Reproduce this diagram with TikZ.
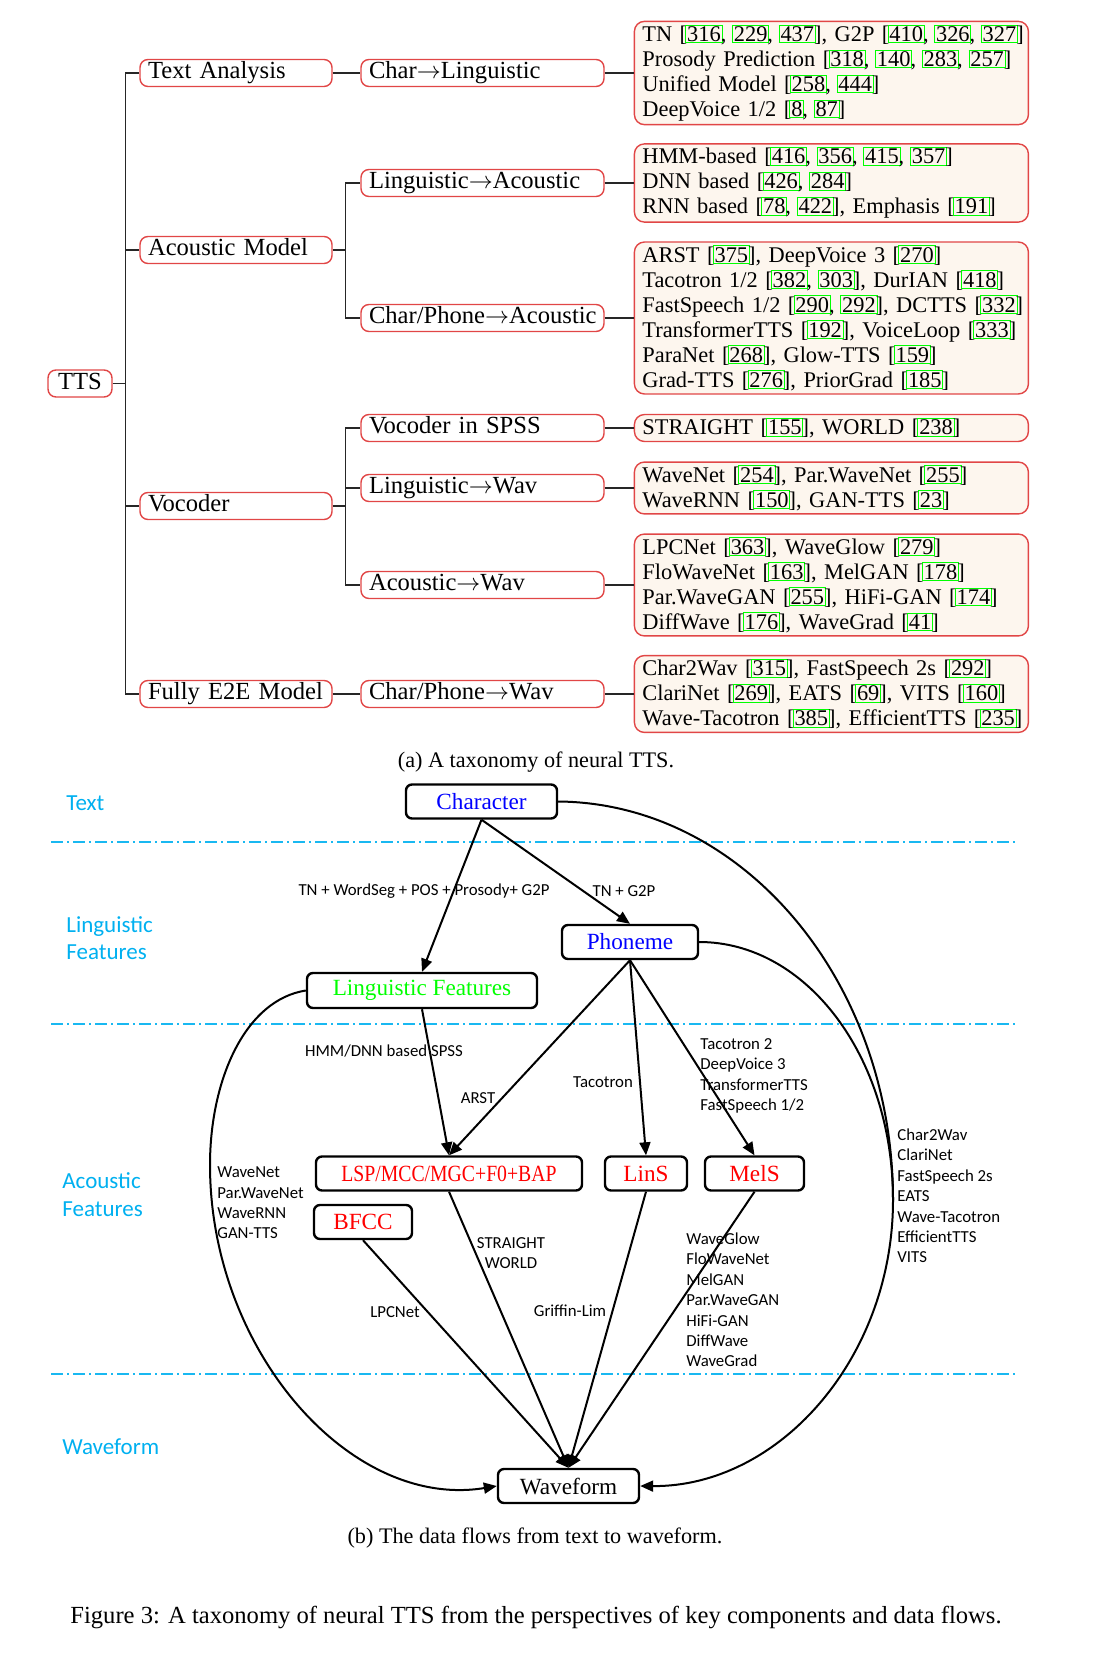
\documentclass[tikz,border=0pt]{standalone}
\usepackage{fontspec}
\setmainfont{Liberation Serif}
\newfontfamily\calibri{Carlito}
\usepackage{graphicx}
\usetikzlibrary{positioning, arrows.meta}
\definecolor{treered}{RGB}{225, 70, 70}
\definecolor{leafbg}{RGB}{253, 246, 238}
\definecolor{citegreen}{RGB}{0, 255, 0}
\definecolor{layerblue}{RGB}{0, 176, 240}
% green link frame round a citation number
\newcommand{\rf}[1]{{\setlength{\fboxsep}{0.4pt}\setlength{\fboxrule}{0.5pt}%
  \kern-0.9pt\textcolor{citegreen}{\fbox{\textcolor{black}{#1}}}\kern-0.9pt}}
% one unbroken line of a leaf box
\newcommand{\lrow}[1]{\mbox{#1}}

\begin{document}
\begin{tikzpicture}[x=0.5pt, y=-0.5pt,
  tnode/.style={draw=treered, line width=0.7pt, rounded corners=4pt, fill=white,
    font=\fontsize{12.3}{13}\selectfont, text height=8.5pt, text depth=2.6pt,
    inner ysep=1.2pt, inner xsep=4pt},
  lvlone/.style={tnode, text width=88pt, align=left},
  lvltwo/.style={tnode, text width=113.5pt, align=left},
  leaf/.style={draw=treered, line width=0.7pt, rounded corners=5pt, fill=leafbg,
    font=\fontsize{11.2}{12.5}\selectfont, text width=189pt, align=left,
    inner xsep=4pt, inner ysep=1.7pt},
  tline/.style={black!85, line width=0.6pt},
  flowbox/.style={draw, line width=1.2pt, rounded corners=3pt,
    font=\fontsize{11.6}{13}\selectfont, inner sep=0pt, minimum height=17pt},
  flow/.style={line width=1pt, -{Triangle[length=6.5pt, width=5.5pt]}},
  elab/.style={font=\calibri\fontsize{8.4}{10.2}\selectfont, inner sep=0pt},
  layer/.style={font=\calibri\fontsize{11.5}{13.8}\selectfont, text=layerblue, inner sep=0pt},
  sepline/.style={layerblue!90, line width=0.7pt, dash pattern=on 6pt off 2pt on 1pt off 2pt}]
  \useasboundingbox (0,0) rectangle (1097,1653);

  % (a) taxonomy
  \node[tnode, minimum width=32pt, inner xsep=0pt] (tts) at (80,383.5) {TTS};
  \node[lvlone] (ta)  at (236,73)  {Text Analysis};
  \node[lvlone] (am)  at (236,250) {Acoustic Model};
  \node[lvlone] (voc) at (236,506) {Vocoder};
  \node[lvlone] (e2e) at (236,694) {Fully E2E Model};

  \node[lvltwo] (cl) at (482.5,73)  {Char$\rightarrow$Linguistic};
  \node[lvltwo] (la) at (482.5,183) {Linguistic$\rightarrow$Acoustic};
  \node[lvltwo] (ca) at (482.5,318) {Char/Phone$\rightarrow$Acoustic};
  \node[lvltwo] (vs) at (482.5,428) {Vocoder in SPSS};
  \node[lvltwo] (lw) at (482.5,488) {Linguistic$\rightarrow$Wav};
  \node[lvltwo] (aw) at (482.5,585) {Acoustic$\rightarrow$Wav};
  \node[lvltwo] (cw) at (482.5,694) {Char/Phone$\rightarrow$Wav};

  \node[leaf, right=14.5pt of cl] (l1) {\lrow{TN [\rf{316}, \rf{229}, \rf{437}], G2P [\rf{410}, \rf{326}, \rf{327}]}\\
    \lrow{Prosody Prediction [\rf{318}, \rf{140}, \rf{283}, \rf{257}]}\\
    \lrow{Unified Model [\rf{258}, \rf{444}]}\\
    \lrow{DeepVoice 1/2 [\rf{8}, \rf{87}]}};
  \node[leaf, right=14.5pt of la] (l2) {\lrow{HMM-based [\rf{416}, \rf{356}, \rf{415}, \rf{357}]}\\
    \lrow{DNN based [\rf{426}, \rf{284}]}\\
    \lrow{RNN based [\rf{78}, \rf{422}], Emphasis [\rf{191}]}};
  \node[leaf, right=14.5pt of ca] (l3) {\lrow{ARST [\rf{375}], DeepVoice 3 [\rf{270}]}\\
    \lrow{Tacotron 1/2 [\rf{382}, \rf{303}], DurIAN [\rf{418}]}\\
    \lrow{FastSpeech 1/2 [\rf{290}, \rf{292}], DCTTS [\rf{332}]}\\
    \lrow{TransformerTTS [\rf{192}], VoiceLoop [\rf{333}]}\\
    \lrow{ParaNet [\rf{268}], Glow-TTS [\rf{159}]}\\
    \lrow{Grad-TTS [\rf{276}], PriorGrad [\rf{185}]}};
  \node[leaf, right=14.5pt of vs] (l4) {\lrow{STRAIGHT [\rf{155}], WORLD [\rf{238}]}};
  \node[leaf, right=14.5pt of lw] (l5) {\lrow{WaveNet [\rf{254}], Par.WaveNet [\rf{255}]}\\
    \lrow{WaveRNN [\rf{150}], GAN-TTS [\rf{23}]}};
  \node[leaf, right=14.5pt of aw] (l6) {\lrow{LPCNet [\rf{363}], WaveGlow [\rf{279}]}\\
    \lrow{FloWaveNet [\rf{163}], MelGAN [\rf{178}]}\\
    \lrow{Par.WaveGAN [\rf{255}], HiFi-GAN [\rf{174}]}\\
    \lrow{DiffWave [\rf{176}], WaveGrad [\rf{41}]}};
  \node[leaf, right=14.5pt of cw] (l7) {\lrow{Char2Wav [\rf{315}], FastSpeech 2s [\rf{292}]}\\
    \lrow{ClariNet [\rf{269}], EATS [\rf{69}], VITS [\rf{160}]}\\
    \lrow{Wave-Tacotron [\rf{385}], EfficientTTS [\rf{235}]}};

  \coordinate (trunk) at ([xshift=6.5pt]tts.east);
  \draw[tline] (tts.east) -- (trunk);
  \foreach \n in {ta, am, voc, e2e}
    \draw[tline] (trunk) |- (\n.west);
  \draw[tline] (ta.east) -- (cl.west);
  \draw[tline] (e2e.east) -- (cw.west);
  \coordinate (amfork) at ([xshift=6.5pt]am.east);
  \coordinate (vocfork) at ([xshift=6.5pt]voc.east);
  \draw[tline] (am.east) -- (amfork);
  \draw[tline] (voc.east) -- (vocfork);
  \foreach \n in {la, ca}
    \draw[tline] (amfork) |- (\n.west);
  \foreach \n in {vs, lw, aw}
    \draw[tline] (vocfork) |- (\n.west);
  \foreach \a/\b in {cl/l1, la/l2, ca/l3, vs/l4, lw/l5, aw/l6, cw/l7}
    \draw[tline] (\a.east) -- (\b.west);

  \node[font=\fontsize{11.1}{13}\selectfont] (capa) at (536,762) {(a) A taxonomy of neural TTS.};

  % (b) data flows
  \foreach \y in {842, 1024, 1374}
    \draw[sepline] (51,\y) -- (1015,\y);
  \node[layer, anchor=west] (ltext) at (66,803) {Text};
  \node[layer, anchor=west, align=left] (lling) at (66,938) {Linguistic\\Features};
  \node[layer, anchor=west, align=left] (lacou) at (62,1194.5) {Acoustic\\Features};
  \node[layer, anchor=west] (lwave) at (62,1447) {Waveform};

  \node[flowbox, minimum width=75.5pt, text=blue] (chr) at (481.5,801.5) {Character};
  \node[flowbox, minimum width=68pt, text=blue] (pho) at (630,942) {Phoneme};
  \node[flowbox, minimum width=115pt, minimum height=17.5pt, text=citegreen] (lf) at (422,990.5) {Linguistic Features};
  \node[flowbox, minimum width=133pt, text=red] (lsp) at (449,1173.5) {\scalebox{0.85}[1]{LSP/MCC/MGC+F0+BAP}};
  \node[flowbox, minimum width=41pt, text=red] (lins) at (646,1173.5) {LinS};
  \node[flowbox, minimum width=49.5pt, text=red] (mels) at (754.5,1173.5) {MelS};
  \node[flowbox, minimum width=49pt, text=red] (bfcc) at (363,1222) {BFCC};
  \node[flowbox, minimum width=70.5pt] (wav) at (568.5,1486) {Waveform};

  \draw[flow] (chr.south) -- (lf.north);
  \draw[flow] (chr.south) -- (pho.north);
  \draw[flow] (lf.south) -- (lsp.north);
  \foreach \n in {lsp, lins, mels}
    \draw[flow] (pho.south) -- (\n.north);
  \foreach \n in {lsp, bfcc, lins, mels}
    \draw[flow] (\n.south) -- (wav.north);
  \draw[flow] (lf.west) .. controls (245,1000) and (210,1080) .. (210,1165)
    .. controls (210,1350) and (350,1510) .. (wav.west);
  \coordinate (rjoin) at (893,1200);
  \draw[line width=1pt] (chr.east) .. controls (743,803) and (893,981) .. (rjoin);
  \draw[line width=1pt] (pho.east) .. controls (806,942) and (893,1056) .. (rjoin);
  \draw[flow] (rjoin) .. controls (893,1358) and (779,1487) .. (wav.east);

  \node[elab] (ltn) at (424,891) {TN + WordSeg + POS + Prosody+ G2P};
  \node[elab] (lg2p) at (624,891) {TN + G2P};
  \node[elab] (lhmm) at (384,1051) {HMM/DNN based SPSS};
  \node[elab] (larst) at (478,1098) {ARST};
  \node[elab] (ltaco) at (603,1082) {Tacotron};
  \node[elab, anchor=west, align=left] (lmel) at (700,1076) {Tacotron 2\\DeepVoice 3\\TransformerTTS\\FastSpeech 1/2};
  \node[elab, align=center] (lsw) at (511,1253) {STRAIGHT\\WORLD};
  \node[elab] (llpc) at (395,1312) {LPCNet};
  \node[elab] (lgl) at (570,1311) {Griffin-Lim};
  \node[elab, anchor=west, align=left] (lvoc) at (686,1300) {WaveGlow\\FloWaveNet\\MelGAN\\Par.WaveGAN\\HiFi-GAN\\DiffWave\\WaveGrad};
  \node[elab, anchor=west, align=left] (lwn) at (217,1203) {WaveNet\\Par.WaveNet\\WaveRNN\\GAN-TTS};
  \node[elab, anchor=west, align=left] (le2e) at (897,1196) {Char2Wav\\ClariNet\\FastSpeech 2s\\EATS\\Wave-Tacotron\\EfficientTTS\\VITS};

  \node[font=\fontsize{11.1}{13}\selectfont] (capb) at (535,1538) {(b) The data flows from text to waveform.};
  \node[font=\fontsize{12.3}{14}\selectfont] (capfig) at (536,1617) {Figure 3: A taxonomy of neural TTS from the perspectives of key components and data flows.};
\end{tikzpicture}
\end{document}
